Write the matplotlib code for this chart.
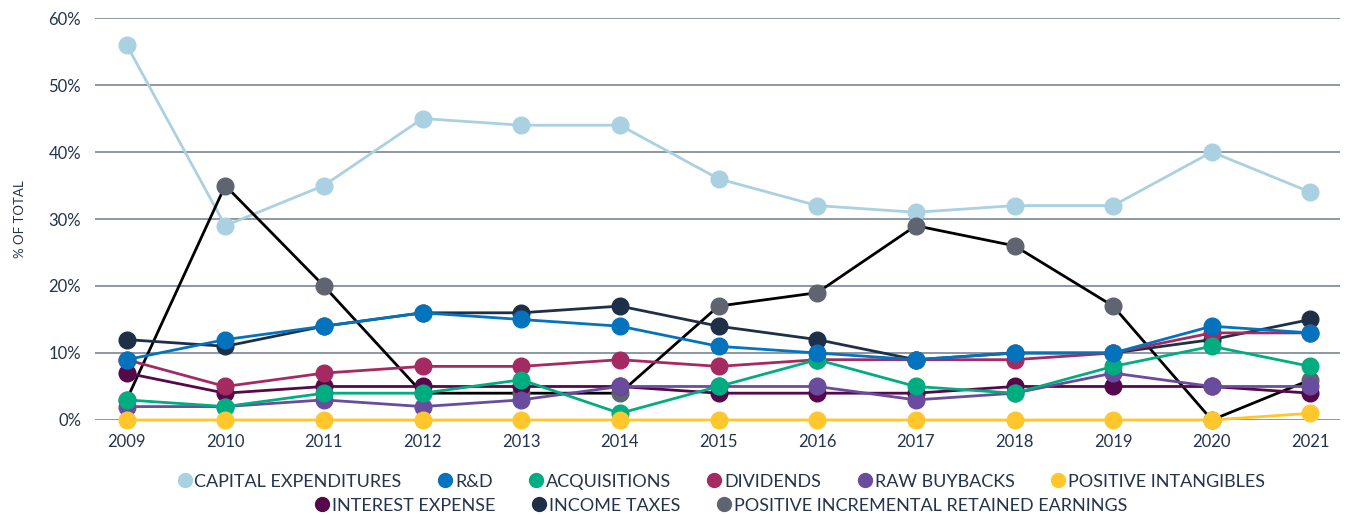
import matplotlib.pyplot as plt
from matplotlib.lines import Line2D

years = list(range(2009, 2022))

capex = [56, 29, 35, 45, 44, 44, 36, 32, 31, 32, 32, 40, 34]
rnd = [9, 12, 14, 16, 15, 14, 11, 10, 9, 10, 10, 14, 13]
acquisitions = [3, 2, 4, 4, 6, 1, 5, 9, 5, 4, 8, 11, 8]
dividends = [9, 5, 7, 8, 8, 9, 8, 9, 9, 9, 10, 13, 13]
buybacks = [2, 2, 3, 2, 3, 5, 5, 5, 3, 4, 7, 5, 5]
intangibles = [0, 0, 0, 0, 0, 0, 0, 0, 0, 0, 0, 0, 1]
interest = [7, 4, 5, 5, 5, 5, 4, 4, 4, 5, 5, 5, 4]
taxes = [12, 11, 14, 16, 16, 17, 14, 12, 9, 10, 10, 12, 15]
retained = [3, 35, 20, 4, 4, 4, 17, 19, 29, 26, 17, 0, 6]

# name, values, marker colour, line colour
series = [
    ("CAPITAL EXPENDITURES", capex, "#A9D1E1", "#A9D1E1"),
    ("POSITIVE INCREMENTAL RETAINED EARNINGS", retained, "#5E6570", "#000000"),
    ("INCOME TAXES", taxes, "#1E2F48", "#1E2F48"),
    ("INTEREST EXPENSE", interest, "#55084A", "#55084A"),
    ("DIVIDENDS", dividends, "#A62A62", "#A62A62"),
    ("RAW BUYBACKS", buybacks, "#6A4C9E", "#6A4C9E"),
    ("ACQUISITIONS", acquisitions, "#00AD80", "#00AD80"),
    ("R&D", rnd, "#0373BE", "#0373BE"),
    ("POSITIVE INTANGIBLES", intangibles, "#FFC72C", "#FFC72C"),
]
colors = {name: mc for name, _, mc, _ in series}

plt.rcParams['font.family'] = ['Lato', 'DejaVu Sans']
text_color = "#24344C"

fig = plt.figure(figsize=(13.46, 5.15), dpi=100)
ax = fig.add_axes([0.0706, 0.1845, 0.925, 0.7805])

for i, (name, vals, mc, lc) in enumerate(series):
    ax.plot(years, vals, color=lc, lw=2, zorder=3 + i, clip_on=False)
    ax.plot(years, vals, 'o', color=mc, ms=12, zorder=3 + i, clip_on=False)

ax.set_ylim(0, 60)
ax.set_xlim(2008.68, 2021.3)
ax.set_yticks(range(0, 61, 10))
ax.set_yticklabels([f"{v}%" for v in range(0, 61, 10)])
ax.set_xticks(years)
ax.yaxis.grid(True, color="#7A8696", lw=1.2)
ax.set_axisbelow(True)
for s in ax.spines.values():
    s.set_visible(False)
ax.tick_params(length=0, labelsize=12, colors=text_color)
ax.tick_params(axis='y', pad=10)
ax.tick_params(axis='x', pad=10)
ax.set_ylabel("% OF TOTAL", fontsize=9.5, color=text_color, labelpad=16)

row1 = ["CAPITAL EXPENDITURES", "R&D", "ACQUISITIONS", "DIVIDENDS",
        "RAW BUYBACKS", "POSITIVE INTANGIBLES"]
row2 = ["INTEREST EXPENSE", "INCOME TAXES", "POSITIVE INCREMENTAL RETAINED EARNINGS"]


def handles(names):
    return [Line2D([], [], marker='o', ls='', color=colors[n], ms=10) for n in names]


for names, y in [(row1, 0.065), (row2, 0.018)]:
    leg = fig.legend(handles(names), names, loc='center', bbox_to_anchor=(0.535, y),
                     ncol=len(names), frameon=False, fontsize=13,
                     handletextpad=0.05, columnspacing=1.9, handlelength=1.0)
    for t in leg.get_texts():
        t.set_color(text_color)

fig.savefig("out.png", dpi=100)
